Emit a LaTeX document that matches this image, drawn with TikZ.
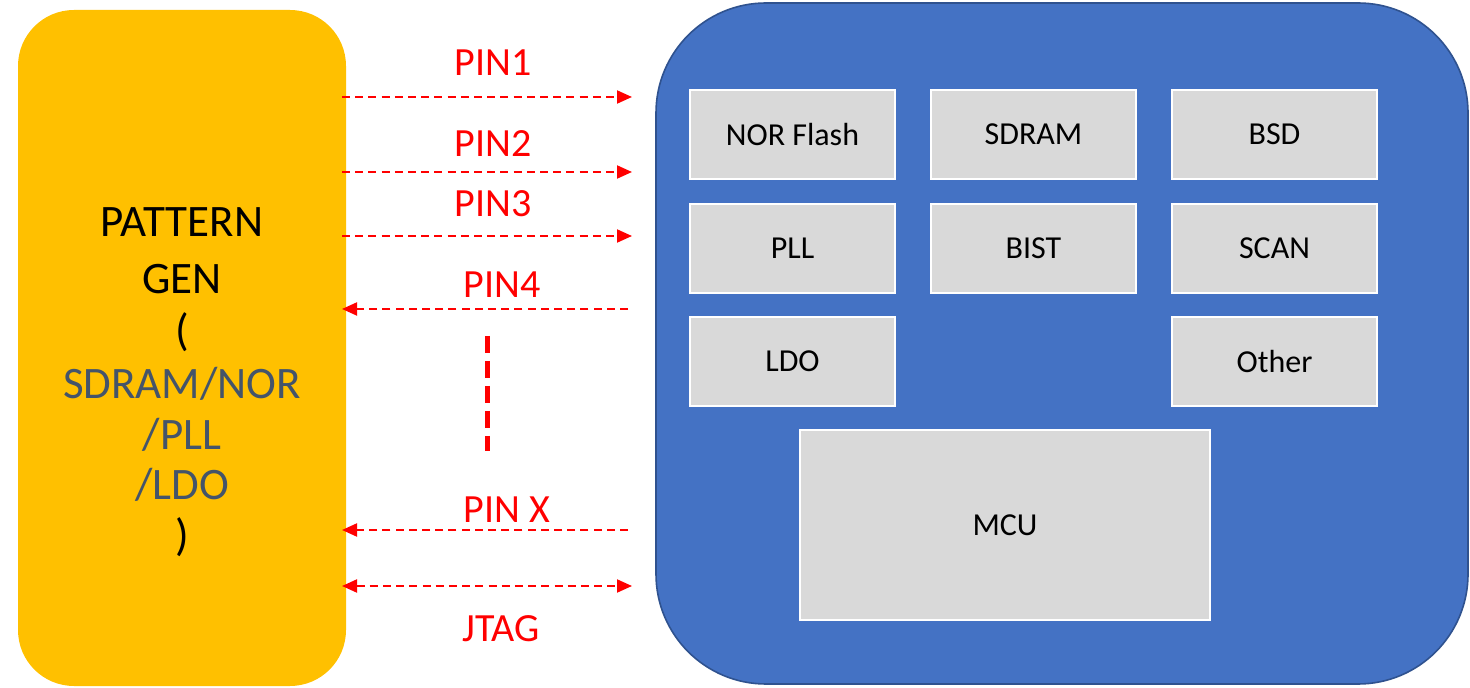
\documentclass[tikz,border=0pt]{standalone}
\usepackage{fontspec}
\setmainfont{Carlito}
\usetikzlibrary{arrows.meta}
\definecolor{ygold}{HTML}{FFC000}
\definecolor{bblue}{HTML}{4472C4}
\definecolor{bborder}{HTML}{2F528F}
\definecolor{gbox}{HTML}{D9D9D9}
\definecolor{slate}{HTML}{44546A}
\definecolor{pinred}{HTML}{FF0000}
\tikzset{
  block/.style={draw=white, line width=0.8pt, fill=gbox, minimum width=102.5pt, minimum height=44.5pt, inner sep=0pt, font=\fontsize{16}{19}\selectfont},
  pinlabel/.style={text=pinred, font=\fontsize{20}{24}\selectfont, anchor=base, inner sep=0pt},
  gentext/.style={font=\fontsize{22.5}{27}\selectfont, anchor=base, inner sep=0pt},
  sig/.style={draw=pinred, line width=1pt, dash pattern=on 4pt off 2.6pt},
  tip/.style={-{Triangle[length=7.5pt,width=6.5pt]}},
}
\begin{document}
\begin{tikzpicture}[x=0.5pt,y=-0.5pt]
\useasboundingbox (0,0) rectangle (1470,688);
% left box
\node[fill=ygold, rounded corners=28pt, minimum width=164pt, minimum height=338pt, inner sep=0pt] (gen) at (182,348) {};
\node[gentext] (t1) at (182,237) {PATTERN};
\node[gentext] (t2) at (182,294) {GEN};
\node[gentext] (t3) at (182,346) {(};
\node[gentext, text=slate] (t4) at (182,399) {SDRAM/NOR};
\node[gentext, text=slate] (t5) at (182,450) {/PLL};
\node[gentext, text=slate] (t6) at (182,500) {/LDO};
\node[gentext] (t7) at (182,551) {)};
% right box
\node[fill=bblue, draw=bborder, line width=0.8pt, rounded corners=55pt, minimum width=406pt, minimum height=340.5pt, inner sep=0pt] (chip) at (1062,343.5) {};
\node[block] (nor) at (792.5,134.5) {NOR Flash};
\node[block] (sdram) at (1033.5,134.5) {SDRAM};
\node[block] (bsd) at (1274.5,134.5) {BSD};
\node[block] (pll) at (792.5,248.5) {PLL};
\node[block] (bist) at (1033.5,248.5) {BIST};
\node[block] (scan) at (1274.5,248.5) {SCAN};
\node[block] (ldo) at (792.5,361.5) {LDO};
\node[block] (other) at (1274.5,361.5) {Other};
\node[block, minimum width=205pt, minimum height=95pt] (mcu) at (1005,525) {MCU};
% connector end points
\coordinate (l1) at (342,97);   \coordinate (r1) at (632,97);
\coordinate (l2) at (342,172);  \coordinate (r2) at (632,172);
\coordinate (l3) at (342,236);  \coordinate (r3) at (632,236);
\coordinate (l4) at (342,309);  \coordinate (r4) at (628,309);
\coordinate (lx) at (342,530);  \coordinate (rx) at (628,530);
\coordinate (lj) at (342,586);  \coordinate (rj) at (632,586);
\coordinate (vt) at (487,336);  \coordinate (vb) at (487,451);
\draw[sig, tip] (l1) -- (r1);
\draw[sig, tip] (l2) -- (r2);
\draw[sig, tip] (l3) -- (r3);
\draw[sig, tip] (r4) -- (l4);
\draw[sig, tip] (rx) -- (lx);
\draw[sig, {Triangle[length=7.5pt,width=6.5pt]}-{Triangle[length=7.5pt,width=6.5pt]}] (lj) -- (rj);
\draw[draw=pinred, line width=2.5pt, dash pattern=on 8.5pt off 4pt] (vt) -- (vb);
% labels
\node[pinlabel] (p1) at (493,76) {PIN1};
\node[pinlabel] (p2) at (493,157) {PIN2};
\node[pinlabel] (p3) at (493,217) {PIN3};
\node[pinlabel] (p4) at (502,298) {PIN4};
\node[pinlabel] (px) at (507,523) {PIN X};
\node[pinlabel] (pj) at (501,641) {JTAG};
\end{tikzpicture}
\end{document}
